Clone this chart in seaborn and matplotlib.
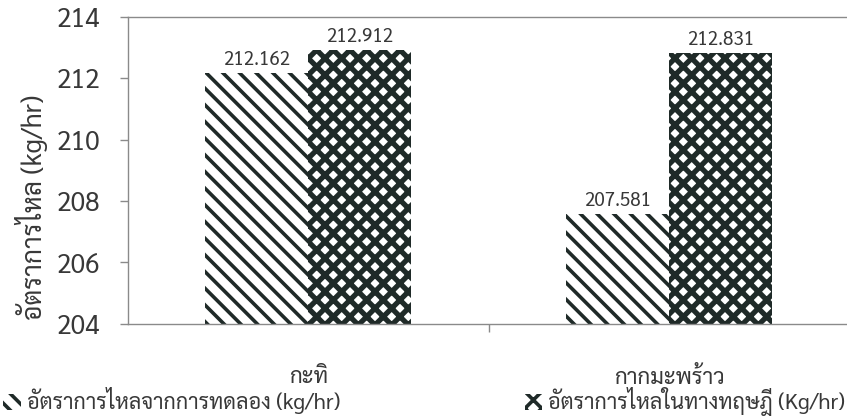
import matplotlib
matplotlib.use('Agg')
import matplotlib.pyplot as plt
from matplotlib.patches import Patch
import seaborn as sns
import pandas as pd

categories = ['กะทิ', 'กากมะพร้าว']
experimental = [212.162, 207.581]
theoretical = [212.912, 212.831]
series_names = ['อัตราการไหลจากการทดลอง (kg/hr)', 'อัตราการไหลในทางทฤษฎี (Kg/hr)']
yticks = [204, 206, 208, 210, 212, 214]
ylabel = 'อัตราการไหล (kg/hr)'

sns.set_theme(style='white')
plt.rcParams['font.family'] = ['Sarabun', 'DejaVu Sans']
plt.rcParams['hatch.linewidth'] = 2.6

TEXT = '#383838'
INK = '#1f2a28'
GRID = '#8a8a8a'
PER_PATCH = hasattr(Patch, 'set_hatch_linewidth')
HATCHES = ['\\\\', 'xx' if PER_PATCH else 'xxx']
HATCH_LW = [2.6, 3.8]


def style_patch(p, i):
    p.set_facecolor('white')
    p.set_edgecolor(INK)
    p.set_hatch(HATCHES[i])
    p.set_linewidth(0)
    if PER_PATCH:
        p.set_hatch_linewidth(HATCH_LW[i])


df = pd.DataFrame({
    'cat': categories * 2,
    'value': experimental + theoretical,
    'series': [series_names[0]] * 2 + [series_names[1]] * 2,
})

fig = plt.figure(figsize=(8.47, 4.2), dpi=100)
ax = fig.add_axes([0.151, 0.229, 0.852, 0.731])
sns.barplot(data=df, x='cat', y='value', hue='series', order=categories,
            hue_order=series_names, width=0.57, ax=ax, legend=False)

for i, cont in enumerate(ax.containers):
    for p in cont:
        style_patch(p, i)
    ax.bar_label(cont, fmt='%.3f', padding=3, fontsize=13.5, color=TEXT)

ax.set_ylim(204, 214)
ax.set_yticks(yticks)
ax.set_xlim(-0.5, 1.5)
ax.set_xticks([0, 1])
ax.set_xticks([0.5], minor=True)
ax.tick_params(axis='x', which='major', length=0, labelsize=16, labelcolor=TEXT, pad=31)
ax.tick_params(axis='x', which='minor', length=6, width=1, color=GRID, bottom=True)
ax.tick_params(axis='y', length=6, width=1, color=GRID, labelsize=19, labelcolor=TEXT,
               left=True, pad=14)
ax.set_xlabel('')
ax.set_ylabel(ylabel, fontsize=19, color=TEXT)
ax.yaxis.set_label_coords(-0.11, 0.38)
for s in ['left', 'bottom', 'top']:
    ax.spines[s].set_visible(True)
    ax.spines[s].set_color(GRID)
    ax.spines[s].set_linewidth(1)
ax.spines['right'].set_visible(False)

handles = []
for i in range(2):
    h = Patch(label=series_names[i])
    style_patch(h, i)
    handles.append(h)
fig.legend(handles, series_names, loc='center left', bbox_to_anchor=(0.004, 1 - 402 / 420, 0.994, 0.0),
           mode='expand', ncol=2, frameon=False, fontsize=15.5, handlelength=0.8, handleheight=0.8,
           handletextpad=0.3, borderaxespad=0, borderpad=0, labelcolor=TEXT)

fig.savefig('out.png', dpi=100)
